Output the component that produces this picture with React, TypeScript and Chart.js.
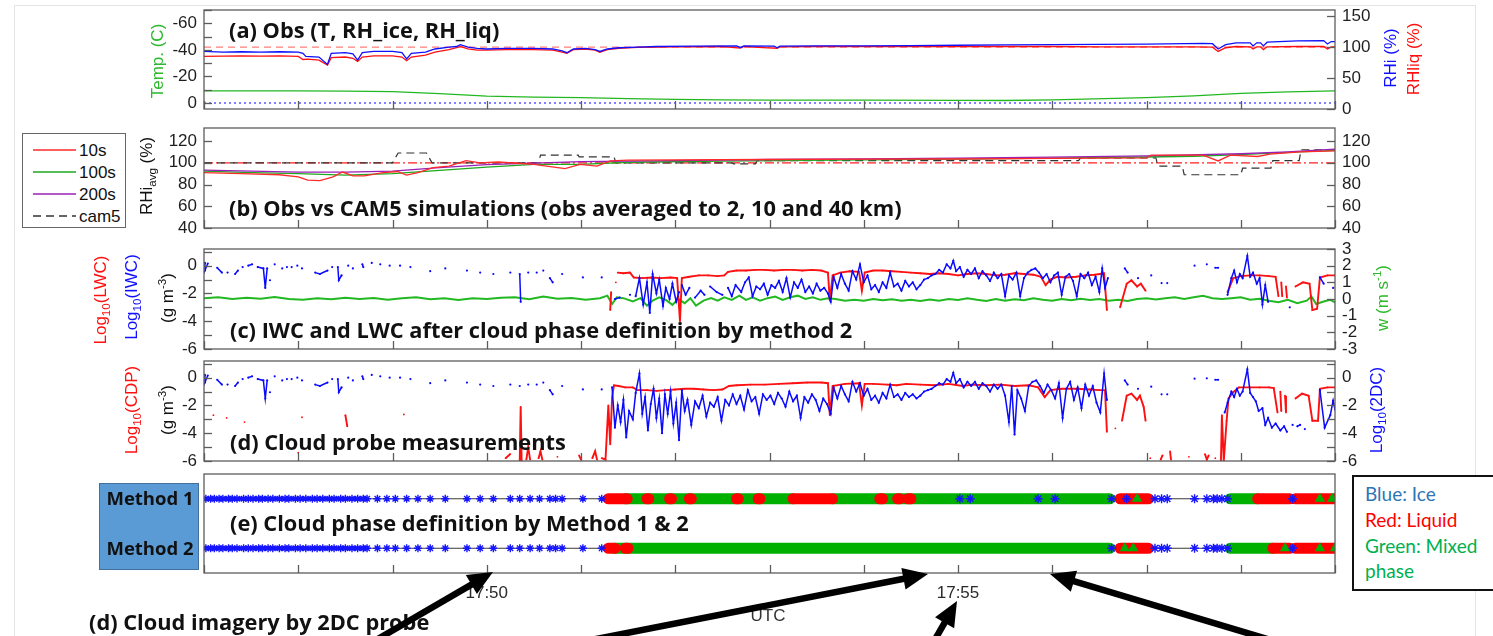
import React, { useEffect, useRef } from 'react';
import { Chart, registerables } from 'chart.js';

Chart.register(...registerables);

type Sample = [number, number] | null; // [minutes after 17:47 UTC, value]; null = data gap
type Run = [number, number]; // [start, end], minutes after 17:47 UTC

// ---------------- time axis ----------------
const TIME_START = 0;
const TIME_END = 12;
const TIME_LABELS: Record<number, string> = { 3: '17:50', 8: '17:55' };

// ---------------- (a) T, RH_ice, RH_liq ----------------
const RH_SATURATION = 100;
const T_FREEZING = 0;

const rhIce: Sample[] = [
  [0, 93], [0.2, 92], [0.4, 92.5], [0.6, 92], [0.8, 92.5], [1.0, 92], [1.05, 90], [1.08, 85], [1.22, 84],
  [1.31, 72], [1.35, 90], [1.5, 91], [1.58, 89], [1.63, 79], [1.68, 91], [1.8, 93], [2.0, 93], [2.1, 91],
  [2.15, 81], [2.2, 90], [2.35, 92], [2.45, 97], [2.6, 100], [2.68, 101], [2.72, 104], [2.8, 100], [2.9, 98],
  [3.0, 97], [3.2, 98], [3.5, 98], [3.7, 97], [3.8, 94], [3.85, 91], [3.92, 97], [4.05, 98], [4.15, 96],
  [4.2, 93], [4.28, 97], [4.4, 99], [4.6, 100], [4.8, 101], [5.2, 101.5], [5.65, 102], [5.69, 99.5], [5.73, 102],
  [6.05, 101.5], [6.08, 99], [6.11, 101.5], [6.5, 102], [7.0, 102], [7.5, 102.5], [8.0, 103], [8.5, 103.5],
  [9.0, 104], [9.5, 104.5], [10.0, 105], [10.4, 105.5], [10.6, 106], [10.7, 105.5], [10.76, 97], [10.84, 104],
  [10.95, 107], [11.1, 107], [11.13, 102], [11.17, 107], [11.21, 107], [11.24, 102], [11.28, 108], [11.6, 110],
  [11.88, 110.5], [11.92, 105], [11.96, 109], [12, 109],
];

const rhLiq: Sample[] = [
  [0, 85], [0.2, 85.5], [0.4, 86], [0.6, 85.5], [0.8, 86], [1.0, 85], [1.05, 80], [1.1, 80.5], [1.22, 79],
  [1.31, 71], [1.35, 83], [1.5, 84], [1.58, 82], [1.63, 77], [1.68, 84], [1.8, 86], [2.0, 86], [2.1, 84],
  [2.15, 78], [2.2, 84], [2.35, 87], [2.45, 92], [2.6, 96], [2.68, 99], [2.72, 101], [2.8, 97], [2.9, 95],
  [3.0, 95], [3.2, 96], [3.5, 96], [3.7, 95], [3.8, 92], [3.85, 90], [3.92, 96], [4.05, 97], [4.15, 95],
  [4.2, 91.5], [4.28, 96], [4.4, 98], [4.6, 99.5], [5.0, 100.5], [5.5, 101], [5.69, 98.5], [5.73, 101],
  [6.08, 98], [6.11, 100.5], [6.5, 101], [7.0, 101], [7.5, 101], [8.0, 101], [8.5, 101], [9.0, 101],
  [9.5, 100.5], [10.0, 100.5], [10.5, 100.5], [10.7, 100], [10.76, 93], [10.84, 99], [10.95, 101], [11.1, 100.5],
  [11.13, 97], [11.17, 100.5], [11.21, 100.5], [11.24, 96], [11.28, 100.5], [11.6, 101], [11.88, 101],
  [11.92, 97], [11.96, 100.5], [12, 100.5],
];

const temperature: Sample[] = [
  [0, -9.2], [1, -9.2], [1.5, -9.0], [2.0, -8.5], [2.5, -7], [3.0, -5.2], [3.5, -4.5], [4.0, -4.0], [4.5, -3.3],
  [5.0, -2.8], [5.5, -2.4], [6.0, -2.2], [7.0, -2.2], [8.0, -2.0], [8.5, -1.9], [9.0, -2.4], [10.0, -4.0],
  [10.5, -5.4], [11.0, -7.2], [11.5, -8.4], [12, -9.2],
];

// ---------------- (b) averaged RHi vs CAM5 ----------------
const rhiAvg10s: Sample[] = [
  [0, 91], [0.4, 90], [0.8, 89], [1.0, 87], [1.1, 84], [1.23, 83.5], [1.37, 87], [1.47, 91.5], [1.58, 88],
  [1.7, 88], [1.9, 91], [2.05, 92], [2.15, 88.7], [2.27, 91], [2.43, 95.5], [2.6, 97], [2.78, 102], [2.93, 100],
  [3.12, 100.7], [3.5, 98.6], [3.83, 94.6], [3.99, 98.6], [4.17, 97], [4.31, 101.7], [4.5, 102.5], [5.0, 102.6],
  [6.0, 103], [7.0, 103.3], [8.0, 103.5], [9.0, 104], [10.0, 104.5], [10.05, 107], [10.6, 107], [10.76, 101.7],
  [10.89, 107], [11.18, 105.8], [11.31, 108], [11.63, 110], [12, 111],
];
const rhiAvg100s: Sample[] = [
  [0, 92.4], [0.5, 91], [1.0, 90], [1.5, 88.7], [2.0, 90], [2.5, 93], [3.0, 96], [3.5, 98.6], [4.0, 98.5],
  [4.5, 100.5], [5.5, 101.5], [7.0, 102.6], [8.0, 103.3], [9.0, 104.2], [10.0, 105.3], [10.5, 106],
  [11.0, 107.5], [11.5, 109.5], [12.0, 111.5],
];
const rhiAvg200s: Sample[] = [
  [0, 93.3], [1.0, 91.4], [1.5, 91.4], [2.0, 92.4], [2.5, 95.5], [3.0, 98.3], [4.0, 101], [5.0, 102], [6.0, 103],
  [7.0, 103.6], [8.0, 104.3], [9.0, 105.2], [10.0, 106.3], [11.0, 108.3], [11.5, 110], [12.0, 112.6],
];
const rhiCam5: Sample[] = [
  [0, 100], [2.0, 100], [2.06, 109], [2.36, 109], [2.42, 100], [3.55, 100], [3.57, 107], [3.97, 107],
  [3.98, 105.5], [4.35, 105.5], [4.37, 100], [5.6, 100], [5.62, 99], [5.85, 99], [5.87, 102], [9.28, 102],
  [9.3, 104.5], [10.1, 104.5], [10.12, 97], [10.38, 97], [10.4, 89], [11.0, 89], [11.02, 95], [11.32, 95],
  [11.34, 102], [11.62, 102], [11.64, 112], [12, 112],
];

// ---------------- (c) IWC, LWC and vertical velocity ----------------
const verticalVelocity: Sample[] = [
  [0, 0.05], [0.15, 0.1], [0.3, 0.0], [0.45, 0.08], [0.6, 0.02], [0.75, 0.12], [0.9, 0.0], [1.05, -0.05],
  [1.2, 0.05], [1.35, -0.02], [1.5, 0.08], [1.65, 0.0], [1.8, 0.06], [1.95, -0.04], [2.1, 0.05], [2.25, 0.1],
  [2.4, -0.02], [2.55, 0.04], [2.7, -0.06], [2.85, 0.05], [3.0, 0.0], [3.15, 0.08], [3.3, 0.1], [3.45, -0.02],
  [3.6, 0.15], [3.75, 0.02], [3.9, 0.06], [4.05, -0.04], [4.2, 0.05], [4.28, 0.2], [4.33, -0.3], [4.38, 0.1],
  [4.45, 0.05], [4.55, -0.15], [4.63, 0.05], [4.7, -0.4], [4.76, -0.1], [4.83, 0.1], [4.9, -0.05], [4.97, -0.35],
  [5.03, 0.0], [5.1, -0.25], [5.16, 0.05], [5.22, -0.4], [5.3, -0.1], [5.38, 0.05], [5.45, -0.1], [5.52, 0.1],
  [5.6, -0.05], [5.68, 0.2], [5.75, -0.05], [5.82, 0.1], [5.9, -0.1], [5.98, 0.05], [6.06, 0.15], [6.14, -0.05],
  [6.22, 0.1], [6.3, 0.2], [6.38, 0.0], [6.46, 0.1], [6.54, -0.05], [6.62, 0.05], [6.7, 0.0], [6.8, -0.1],
  [6.9, -0.05], [7.0, -0.1], [7.1, 0.0], [7.2, -0.08], [7.3, -0.02], [7.4, -0.1], [7.5, -0.05], [7.6, -0.12],
  [7.7, -0.03], [7.8, -0.1], [7.9, 0.0], [8.0, -0.06], [8.1, 0.05], [8.2, -0.05], [8.3, -0.12], [8.4, 0.0],
  [8.5, -0.1], [8.6, -0.02], [8.7, -0.08], [8.8, 0.05], [8.9, -0.05], [9.0, -0.1], [9.1, 0.0], [9.2, -0.08],
  [9.3, 0.02], [9.4, -0.06], [9.5, 0.0], [9.6, -0.1], [9.7, -0.05], [9.8, -0.12], [9.9, 0.0], [10.0, 0.05],
  [10.1, -0.03], [10.2, 0.05], [10.3, 0.1], [10.4, 0.0], [10.5, 0.1], [10.6, 0.2], [10.7, 0.05], [10.8, 0.0],
  [10.9, 0.05], [11.0, 0.1], [11.1, -0.05], [11.2, 0.02], [11.3, -0.1], [11.4, -0.2], [11.5, -0.05],
  [11.6, -0.25], [11.7, -0.1], [11.75, 0.15], [11.8, -0.3], [11.88, -0.15], [11.95, -0.05], [12, -0.2],
];

const logIwc: Sample[] = [
  [0.01, 0.2], [0.01, -0.35], [0.04, 0.15], null, [0.14, -0.15], [0.19, -0.5], null, [0.25, -0.5], null,
  [0.33, -0.6], [0.36, -0.35], null, [0.41, -0.1], null, [0.47, 0.0], [0.51, 0.1], null, [0.57, -0.1],
  [0.63, -0.2], [0.65, -1.6], [0.67, -0.2], null, [0.70, -1.05], null, [0.75, 0.1], null, [0.83, -0.2], null,
  [0.88, -0.1], null, [0.93, -0.1], null, [0.99, 0.0], null, [1.04, -0.2], null, [1.18, -0.5], [1.23, -0.6],
  [1.31, -0.35], null, [1.36, -0.1], null, [1.42, -0.1], [1.43, -1.05], [1.46, -0.7], null, [1.53, 0.0], null,
  [1.58, -0.2], null, [1.68, 0.1], [1.69, -0.1], null, [1.78, 0.2], null, [1.87, 0.1], null, [1.97, 0.0], null,
  [2.08, 0.0], null, [2.19, -0.1], null, [2.40, -0.4], null, [2.56, -0.2], null, [2.79, -0.35], null,
  [2.93, -0.5], null, [3.07, -0.6], null, [3.25, -0.5], null, [3.35, -0.6], [3.36, -2.6], null, [3.44, -0.5],
  null, [3.53, -0.5], null, [3.60, -0.35], null, [3.67, -0.9], [3.70, -1.2], null, [3.80, -0.6], null,
  [4.02, -0.85], null, [4.22, -0.85], null,
  [4.36, -2.4], [4.41, -2.3], null, [4.52, -2.1], null,
  [4.58, -2.2], [4.62, -0.9], [4.66, -2.8], [4.70, -1.2], [4.73, -3.4], [4.76, -0.6], [4.80, -2.0], [4.83, -1.0],
  [4.87, -2.9], [4.90, -1.6], [4.94, -2.4], [4.97, -1.3], [5.01, -2.6], [5.04, -1.9], null,
  [5.07, -1.4], [5.11, -2.1], [5.15, -1.6], null, [5.21, -2.3], [5.27, -1.8], [5.31, -2.1], null,
  [5.37, -1.5], [5.44, -1.9], [5.5, -2.1], null,
  [5.56, -1.6], [5.60, -2.2], [5.64, -1.4], [5.70, -1.9], [5.74, -1.2], [5.78, -0.85], [5.82, -2.2], [5.86, -1.5],
  [5.90, -1.7], [5.94, -1.3], [5.98, -2.1], [6.02, -1.4], [6.06, -1.6], [6.10, -1.1], [6.14, -1.9], [6.18, -0.9],
  [6.22, -2.3], [6.26, -1.2], [6.30, -1.6], [6.34, -1.0], [6.38, -1.9], [6.42, -1.5], [6.46, -2.0], [6.50, -1.3],
  [6.54, -1.8], [6.58, -1.6], [6.62, -2.0], [6.65, -2.6],
  [6.68, -0.8], [6.72, -1.6], [6.76, -0.6], [6.80, -1.3], [6.84, -1.8], [6.88, -0.4], [6.92, -1.0], [6.96, 0.1],
  [7.00, -1.2], [7.04, -0.7], [7.08, -1.7], [7.12, -1.4], [7.16, -1.9], [7.20, -1.2], [7.24, -1.6], [7.28, -0.5],
  [7.32, -1.5], [7.36, -1.3], [7.40, -1.8], [7.44, -1.1], [7.48, -1.5], [7.52, -1.2], [7.56, -1.7], [7.60, -1.4],
  [7.64, -1.0], [7.68, -0.9], [7.72, -0.7], [7.76, -0.6], [7.80, -0.3], [7.84, -0.5], [7.88, 0.1], [7.92, -0.2],
  [7.95, 0.35], [7.98, -0.4], [8.02, -0.1], [8.06, -0.8], [8.10, -0.3], [8.14, -0.6], [8.18, -0.2], [8.22, -0.9],
  [8.26, -0.4], [8.30, -0.7], [8.34, -1.1], [8.38, -0.5], [8.42, -0.9],
  [8.46, -0.6], [8.50, -2.2], [8.54, -0.7], [8.58, -1.0], [8.62, -0.5], [8.66, -2.2], [8.70, -0.9], [8.74, -0.5],
  [8.78, -0.3], [8.82, -0.2], [8.86, -0.5], [8.90, -0.9], [8.94, -0.6], [8.98, -1.2], [9.02, -0.7], [9.06, -0.5],
  [9.10, -2.1], [9.14, -0.8], [9.18, -0.6], [9.22, -1.1], [9.26, -2.2], [9.30, -0.6], [9.34, -0.9], [9.38, -0.5],
  [9.42, -1.4], [9.46, -0.8], [9.50, -1.9], [9.53, -0.2], [9.56, -1.6], [9.59, -0.9], null,
  [9.77, -0.2], [9.80, -0.5], null, [9.91, -0.9], null, [10.05, -0.7], null, [10.16, -1.25], null,
  [10.22, -1.25], null, [10.51, 0.0], null, [10.64, 0.1], null, [10.73, -0.15], [10.76, -0.15], null,
  [10.86, -2.1], [10.90, -0.9], [10.93, -0.35], [10.96, -1.2], [10.99, -0.6], [11.02, -0.9], [11.07, 0.7],
  [11.10, -0.8], [11.13, -0.5], [11.17, -1.3], [11.20, -0.9], [11.23, -2.8], [11.26, -1.4], [11.29, -2.6], null,
  [11.52, -3.0], null, [11.84, -0.85], [11.88, -1.3], null, [11.98, -1.6], null,
];

const logLwc: Sample[] = [
  [4.31, -3.2], [4.32, -1.9], null, [4.37, -1.2], null,
  [4.39, -0.5], [4.45, -0.55], [4.52, -0.5], [4.56, -0.85], [4.65, -0.9], [4.75, -0.85], [4.85, -0.9],
  [4.95, -0.85], [5.02, -0.9], [5.05, -4.0], [5.07, -0.9], [5.15, -0.8], [5.25, -0.7], [5.35, -0.7],
  [5.45, -0.75], [5.52, -0.7], [5.56, -0.45], [5.65, -0.35], [5.75, -0.35], [5.85, -0.3], [5.95, -0.3],
  [6.05, -0.35], [6.15, -0.3], [6.25, -0.3], [6.35, -0.35], [6.45, -0.3], [6.55, -0.35], [6.62, -0.5],
  [6.64, -2.5], [6.67, -0.7], [6.75, -0.5], [6.85, -0.4], [6.95, -0.45], [6.98, -1.8], [7.01, -0.5],
  [7.1, -0.35], [7.2, -0.35], [7.3, -0.4], [7.4, -0.45], [7.5, -0.5], [7.6, -0.55], [7.7, -0.6], [7.8, -0.55],
  [7.9, -0.6], [8.0, -0.7], [8.1, -0.6], [8.2, -0.55], [8.3, -0.6], [8.4, -0.7], [8.5, -0.65], [8.6, -0.55],
  [8.7, -0.6], [8.8, -0.65], [8.88, -0.8], [8.93, -1.4], [8.98, -1.0], [9.05, -0.8], [9.15, -0.85],
  [9.25, -0.8], [9.35, -0.7], [9.45, -0.65], [9.55, -0.55], [9.58, -3.2], null,
  [9.72, -3.0], [9.79, -1.3], [9.84, -1.05], [9.90, -1.5], [9.94, -1.3], [9.99, -1.8], null,
  [10.86, -1.9], [10.92, -0.9], [11.0, -0.75], [11.1, -0.7], [11.2, -0.7], [11.3, -0.75], [11.37, -0.8],
  [11.40, -2.2], null, [11.43, -1.2], [11.44, -2.2], null, [11.48, -1.5], [11.49, -2.3], null,
  [11.58, -1.5], [11.66, -1.2], [11.73, -1.3], [11.76, -3.2], [11.81, -3.1], [11.84, -0.85], [11.92, -0.7],
  [12.0, -0.7],
];

// ---------------- (d) cloud probes: CDP and 2DC ----------------
const logCdp: Sample[] = [
  [0.10, -2.7], null, [0.24, -2.9], null, [0.43, -3.2], null, [1.0, -5.4], null, [1.04, -2.85], null,
  [1.50, -2.7], [1.52, -3.5], null, [2.12, -2.65], null,
  [3.20, -5.8], [3.25, -5.5], null, [3.35, -6.0], [3.36, -2.1], [3.37, -6.0], null, [3.42, -5.9], [3.44, -5.0],
  [3.46, -5.9], null, [3.55, -5.8], [3.57, -5.3], [3.59, -5.9], null, [3.75, -5.7], null, [3.98, -5.6],
  [4.0, -5.9], null, [4.12, -5.8], [4.15, -5.3], [4.17, -5.9], null, [4.22, -5.8], [4.26, -5.9], [4.29, -2.0],
  [4.31, -4.8], [4.33, -1.4], [4.35, -0.55], [4.40, -0.6], [4.47, -0.7], [4.55, -0.7], [4.60, -0.9],
  [4.70, -0.9], [4.80, -0.95], [4.90, -0.9], [5.00, -0.85], [5.10, -0.8], [5.20, -0.8], [5.30, -0.85],
  [5.40, -0.9], [5.50, -0.85], [5.57, -0.6], [5.65, -0.55], [5.80, -0.5], [5.95, -0.5], [6.10, -0.45],
  [6.25, -0.4], [6.40, -0.35], [6.55, -0.35], [6.62, -0.4], [6.64, -2.7], [6.67, -0.6], [6.80, -0.45],
  [6.95, -0.4], [6.98, -2.0], [7.01, -0.45], [7.10, -0.45], [7.25, -0.5], [7.35, -0.55], [7.45, -0.45],
  [7.60, -0.5], [7.75, -0.55], [7.90, -0.45], [8.05, -0.6], [8.15, -0.5], [8.30, -0.55], [8.45, -0.5],
  [8.60, -0.6], [8.75, -0.55], [8.85, -0.7], [8.92, -1.4], [8.98, -0.9], [9.10, -0.8], [9.25, -0.8],
  [9.40, -0.85], [9.50, -0.9], [9.56, -0.9], [9.58, -3.9], null, [9.67, -3.65], null,
  [9.74, -3.1], [9.79, -1.3], [9.84, -1.15], [9.90, -1.6], [9.93, -1.3], [9.97, -2.1], [9.99, -3.1], null,
  [10.04, -5.8], null, [10.15, -5.9], [10.17, -5.6], null, [10.25, -5.3], [10.26, -5.9], null, [10.45, -5.7],
  null, [10.62, -5.5], [10.64, -5.9], [10.66, -5.6], null, [10.73, -5.8], null,
  [10.79, -6.0], [10.80, -2.7], [10.82, -6.0], [10.85, -3.1], [10.87, -1.5], [10.92, -1.05], [10.98, -0.7],
  [11.10, -0.7], [11.20, -0.7], [11.30, -0.7], [11.35, -0.75], [11.39, -2.5], null, [11.42, -1.0],
  [11.43, -2.4], null, [11.47, -1.3], [11.48, -2.5], null, [11.58, -1.5], [11.65, -1.15], [11.72, -1.3],
  [11.76, -3.1], [11.82, -3.1], [11.84, -0.8], [11.92, -0.7], [12.0, -0.7],
];

const log2dc: Sample[] = [
  [0.01, 0.2], [0.01, -0.35], [0.04, 0.15], null, [0.14, -0.15], [0.19, -0.5], null, [0.25, -0.5], null,
  [0.33, -0.6], [0.36, -0.35], null, [0.41, -0.1], null, [0.47, 0.0], [0.51, 0.1], null, [0.57, -0.1],
  [0.63, -0.2], [0.65, -1.5], [0.67, -0.2], null, [0.70, -1.05], null, [0.75, 0.1], null, [0.83, -0.2], null,
  [0.88, -0.1], null, [0.93, -0.1], null, [0.99, 0.0], null, [1.04, -0.2], null, [1.18, -0.5], [1.23, -0.6],
  [1.31, -0.35], null, [1.36, -0.1], null, [1.42, -0.1], [1.43, -1.05], [1.46, -0.7], null, [1.53, 0.0], null,
  [1.58, -0.2], null, [1.68, 0.1], [1.69, -0.1], null, [1.78, 0.2], null, [1.87, 0.1], null, [1.97, 0.0], null,
  [2.08, 0.0], null, [2.19, -0.1], null, [2.40, -0.4], null, [2.56, -0.2], null, [2.79, -0.35], null,
  [2.93, -0.5], null, [3.07, -0.6], null, [3.25, -0.5], null, [3.35, -0.6], null, [3.44, -0.5], null,
  [3.53, -0.5], null, [3.60, -0.35], null, [3.67, -0.9], [3.70, -1.2], null, [3.80, -0.6], null,
  [4.02, -0.85], null, [4.22, -0.85], null,
  [4.33, -0.7], [4.36, -3.6], [4.39, -2.0], [4.42, -3.2], [4.45, -1.6], [4.48, -4.3], [4.51, -2.4], [4.55, -3.0],
  [4.58, -1.1], [4.62, 0.3], [4.65, -2.6], [4.68, -1.4], [4.71, -3.8], [4.74, -1.9], [4.77, -0.8], [4.80, -2.9],
  [4.83, -1.5], [4.86, -4.0], [4.89, -1.2], [4.92, -2.6], [4.95, -1.0], [4.98, -3.3], [5.01, -1.8], [5.04, -4.5],
  [5.07, -0.9], [5.10, -2.4], [5.13, -1.6], [5.17, -3.4], [5.21, -1.7], [5.25, -2.2], [5.29, -1.3], [5.33, -2.8],
  [5.37, -1.8], [5.41, -2.1], [5.45, -1.4], [5.49, -3.1], [5.53, -1.6], [5.57, -2.0], [5.61, -1.2], [5.65, -1.9],
  [5.69, -1.3], [5.73, -2.3], [5.77, -0.9], [5.81, -1.7], [5.85, -1.4], [5.89, -2.6], [5.93, -1.2], [5.97, -1.6],
  [6.01, -1.3], [6.05, -1.9], [6.09, -1.1], [6.13, -1.5], [6.17, -2.1], [6.21, -1.0], [6.25, -1.7], [6.29, -1.3],
  [6.33, -2.9], [6.37, -1.4], [6.41, -1.8], [6.45, -1.2], [6.49, -1.6], [6.53, -2.4], [6.57, -1.5], [6.61, -1.9],
  [6.65, -2.6], [6.68, -0.7], [6.72, -1.5], [6.76, -0.6], [6.80, -1.2], [6.84, -1.7], [6.88, -0.3], [6.92, -1.0],
  [6.96, -0.4], [7.00, -1.3], [7.04, -0.8], [7.08, -1.6], [7.12, -1.3], [7.16, -1.8], [7.20, -1.1], [7.24, -1.5],
  [7.28, -0.5], [7.32, -1.4], [7.36, -1.2], [7.40, -1.6], [7.44, -1.1], [7.48, -1.4], [7.52, -1.2], [7.56, -1.5],
  [7.60, -1.3], [7.64, -1.0], [7.68, -0.9], [7.72, -0.8], [7.76, -0.6], [7.80, -0.4], [7.84, -0.5], [7.88, -0.1],
  [7.92, -0.3], [7.95, 0.35], [7.98, -0.4], [8.02, -0.1], [8.06, -0.7], [8.10, -0.3], [8.14, -0.6], [8.18, -0.3],
  [8.22, -0.8], [8.26, -0.4], [8.30, -0.6], [8.34, -1.0], [8.38, -0.5], [8.42, -0.8], [8.46, -0.5], [8.50, -1.3],
  [8.54, -3.2], [8.57, -0.6], [8.60, -4.1], [8.63, -0.9], [8.67, -1.5], [8.71, -2.4], [8.75, -0.6], [8.79, -0.3],
  [8.83, -0.2], [8.87, -0.6], [8.91, -1.1], [8.95, -0.5], [8.99, -0.9], [9.03, -1.5], [9.07, -0.4], [9.11, -2.9],
  [9.15, -0.8], [9.19, -0.3], [9.23, -1.6], [9.27, -0.7], [9.31, -2.2], [9.35, -0.5], [9.39, -1.3], [9.43, -0.6],
  [9.47, -1.8], [9.51, -2.5], [9.55, 0.3], [9.58, -1.6], null,
  [9.77, -0.2], [9.80, -0.5], null, [9.91, -0.8], null, [10.05, -0.65], null, [10.16, -1.2], null,
  [10.22, -1.2], null, [10.51, -0.07], null, [10.64, -0.05], null, [10.73, -0.15], [10.76, -0.15], null,
  [10.83, -2.5], [10.86, -1.8], [10.90, -1.0], [10.93, -1.4], [10.96, -0.8], [10.99, -1.3], [11.02, -1.0],
  [11.07, 0.6], [11.10, -1.1], [11.13, -1.4], [11.16, -1.7], [11.19, -2.4], [11.23, -2.2], [11.26, -3.4],
  [11.29, -2.9], [11.33, -3.6], [11.37, -3.3], [11.42, -3.8], [11.46, -3.5], [11.49, -3.9], null,
  [11.55, -3.4], null, [11.60, -3.5], [11.63, -3.4], null, [11.68, -3.7], null,
  [11.84, -0.9], [11.89, -3.6], [11.95, -2.7], [11.98, -1.65], [12.0, -2.3],
];

// ---------------- (e) cloud phase by method 1 and method 2 ----------------
const ROW_METHOD1 = 1;
const ROW_METHOD2 = 2;

const iceStarsEarly: number[] = [
  0.02, 0.07, 0.11, 0.16, 0.2, 0.26, 0.3, 0.35, 0.42, 0.47, 0.52, 0.58, 0.62, 0.68, 0.73, 0.8, 0.86, 0.9, 0.97,
  1.02, 1.08, 1.15, 1.2, 1.26, 1.33, 1.38, 1.45, 1.5, 1.57, 1.63, 1.69, 1.73, 1.84, 1.94, 2.03, 2.15, 2.27, 2.40,
  2.56, 2.79, 2.93, 3.07, 3.25, 3.35, 3.46, 3.56, 3.67, 3.73, 3.80, 4.02, 4.22,
];
const iceBand: Run[] = [[0.0, 1.73]];

const m1IceStarsLate: number[] = [8.02, 8.13, 8.85, 9.03, 9.63, 9.79, 10.09, 10.16, 10.22, 10.51, 10.64, 10.71, 10.75, 10.80, 10.86, 11.55];
const m1Mixed: Run[] = [[4.47, 6.25], [6.67, 9.61], [10.89, 11.18]];
const m1Liquid: Run[] = [
  [4.29, 4.49], [4.70, 4.72], [4.94, 4.96], [5.15, 5.17], [5.65, 5.67], [5.88, 5.90],
  [6.25, 6.67], [7.17, 7.20], [7.36, 7.38], [7.47, 7.50], [9.72, 10.02], [11.18, 11.52], [11.58, 12.0],
];
const m1MixedMarks: number[] = [9.90, 11.84, 11.97];

const m2IceStarsLate: number[] = [9.63, 10.09, 10.16, 10.22, 10.51, 10.64, 10.71, 10.75, 10.80, 10.86, 11.55];
const m2Mixed: Run[] = [[4.36, 9.61], [10.89, 11.34]];
const m2Liquid: Run[] = [[4.29, 4.36], [4.47, 4.50], [9.72, 10.02], [11.34, 11.52], [11.58, 12.0]];
const m2MixedMarks: number[] = [9.77, 9.86, 11.47, 11.84, 12.0];

// ---------------- styling ----------------
const SANS = '"Liberation Sans", Arial, sans-serif';
const OPEN = '"Open Sans", Lato, sans-serif';
const CALI = 'Lato, "Open Sans", sans-serif';
const LEFT_GUTTER = 204;
const RIGHT_GUTTER = 158;
const FRAME = '#5c5c5c';

const C = {
  blue: '#1010ff',
  red: '#ff1010',
  green: '#22b822',
  purple: '#9a1fb8',
  dark: '#333333',
  phaseGreen: '#00b000',
};

Chart.defaults.font.family = SANS;
Chart.defaults.font.size = 17;
Chart.defaults.color = '#1e1e1e';

function toXY(pts: Sample[]) {
  const out: { x: number; y: number | null }[] = [];
  let lastX = 0;
  for (const p of pts) {
    if (p === null) {
      out.push({ x: lastX, y: null });
      continue;
    }
    lastX = p[0];
    out.push({ x: p[0], y: p[1] });
  }
  return out;
}

function runsToXY(runs: Run[], row: number) {
  return runs.flatMap(([a, b]) => [{ x: a, y: row }, { x: b, y: row }, { x: b, y: null }]);
}

function pointsOnRow(times: number[], row: number) {
  return times.map((t) => ({ x: t, y: row }));
}

function line(pts: Sample[], axis: string, color: string, width: number, extra: any = {}) {
  return {
    type: 'line',
    data: toXY(pts),
    yAxisID: axis,
    borderColor: color,
    backgroundColor: color,
    borderWidth: width,
    pointRadius: 0,
    pointBorderWidth: 0,
    fill: false,
    tension: 0,
    ...extra,
  };
}

function timeAxis(labelled: boolean) {
  return {
    type: 'linear',
    min: TIME_START,
    max: TIME_END,
    grid: { display: false, drawTicks: false },
    border: { display: false },
    ticks: {
      display: labelled,
      stepSize: 1,
      autoSkip: false,
      maxRotation: 0,
      minRotation: 0,
      includeBounds: false,
      padding: 10,
      color: '#2a2a2a',
      callback: (v: number) => TIME_LABELS[v] ?? '',
    },
    afterFit: (s: any) => {
      s.height = labelled ? 45 : 0;
    },
  };
}

function valueAxis(position: 'left' | 'right', min: number, max: number, step: number, labelEvery: number, reverse = false) {
  return {
    type: 'linear',
    position,
    min,
    max,
    reverse,
    grid: { display: false, drawTicks: false },
    border: { display: false },
    ticks: {
      stepSize: step,
      includeBounds: false,
      autoSkip: false,
      padding: 7,
      color: '#1e1e1e',
      callback: (v: number) =>
        Math.abs(v / labelEvery - Math.round(v / labelEvery)) < 1e-6 ? String(v) : '',
    },
    afterFit: (s: any) => {
      s.width = position === 'left' ? LEFT_GUTTER : RIGHT_GUTTER;
    },
  };
}

// box around the axes plus inward tick marks, drawn on top of the data
const framePlugin = {
  id: 'panelFrame',
  afterDraw(chart: any) {
    const { ctx, chartArea: a } = chart;
    const TICK = 8;
    ctx.save();
    ctx.strokeStyle = FRAME;
    ctx.lineWidth = 1.3;
    for (const s of Object.values(chart.scales) as any[]) {
      if (s.options.display === false) continue;
      if (s.axis === 'x') {
        for (const t of s.ticks) {
          const px = Math.round(s.getPixelForValue(t.value)) + 0.5;
          ctx.beginPath();
          ctx.moveTo(px, a.bottom);
          ctx.lineTo(px, a.bottom - TICK);
          ctx.stroke();
        }
      } else {
        const left = s.position === 'left';
        const x0 = left ? a.left : a.right;
        const x1 = left ? a.left + TICK : a.right - TICK;
        for (const t of s.ticks) {
          const py = Math.round(s.getPixelForValue(t.value)) + 0.5;
          ctx.beginPath();
          ctx.moveTo(x0, py);
          ctx.lineTo(x1, py);
          ctx.stroke();
        }
      }
    }
    ctx.strokeRect(a.left, a.top, a.right - a.left, a.bottom - a.top);
    ctx.restore();
  },
};

function panelOptions(scales: any, padding: any) {
  return {
    responsive: false,
    animation: false,
    events: [],
    layout: { padding },
    plugins: { legend: { display: false }, tooltip: { enabled: false } },
    scales,
  };
}

const PAD = { top: 22, bottom: 22, left: 0, right: 0 };

const buildA = () => ({
  type: 'line',
  data: {
    datasets: [
      line(rhIce, 'yR', C.blue, 1.3),
      line(rhLiq, 'yR', C.red, 1.3),
      line(temperature, 'yL', C.green, 1.3),
      line([[TIME_START, RH_SATURATION], [TIME_END, RH_SATURATION]], 'yR', '#ff7c7c', 1.2, { borderDash: [7, 5] }),
      line([[TIME_START, T_FREEZING], [TIME_END, T_FREEZING]], 'yL', '#5656ff', 1.3, { borderDash: [2, 3] }),
    ],
  },
  options: panelOptions(
    { x: timeAxis(false), yL: valueAxis('left', -70, 4.5, 10, 20, true), yR: valueAxis('right', 0, 160, 50, 50) },
    PAD,
  ),
  plugins: [framePlugin],
});

const buildB = () => ({
  type: 'line',
  data: {
    datasets: [
      line(rhiAvg10s, 'yL', '#ff2a2a', 1.3),
      line(rhiAvg200s, 'yL', C.purple, 1.3),
      line(rhiAvg100s, 'yL', '#1fa81f', 1.3),
      line(rhiCam5, 'yL', C.dark, 1.2, { borderDash: [8, 5] }),
      line([[TIME_START, RH_SATURATION], [TIME_END, RH_SATURATION]], 'yL', '#ff2020', 1.3, { borderDash: [9, 3, 2, 3] }),
    ],
  },
  options: panelOptions(
    { x: timeAxis(false), yL: valueAxis('left', 40, 132, 20, 20), yR: valueAxis('right', 40, 132, 20, 20) },
    PAD,
  ),
  plugins: [framePlugin],
});

const buildC = () => ({
  type: 'line',
  data: {
    datasets: [
      line(logIwc, 'yL', '#0a0aff', 1.5, { pointRadius: 1.1 }),
      line(logLwc, 'yL', C.red, 1.9, { pointRadius: 0.9 }),
      line(verticalVelocity, 'yR', C.green, 2),
    ],
  },
  options: panelOptions(
    { x: timeAxis(false), yL: valueAxis('left', -6, 1.2, 1, 2), yR: valueAxis('right', -3, 3, 1, 1) },
    PAD,
  ),
  plugins: [framePlugin],
});

const buildD = () => ({
  type: 'line',
  data: {
    datasets: [
      line(log2dc, 'yR', '#0a0aff', 1.5, { pointRadius: 1.1 }),
      line(logCdp, 'yL', C.red, 1.9, { pointRadius: 0.9 }),
    ],
  },
  options: panelOptions(
    { x: timeAxis(false), yL: valueAxis('left', -6, 1.2, 1, 2), yR: valueAxis('right', -6, 1.2, 1, 2) },
    PAD,
  ),
  plugins: [framePlugin],
});

const phaseRun = (runs: Run[], row: number, color: string, width: number) => ({
  type: 'line',
  data: runsToXY(runs, row),
  yAxisID: 'yRow',
  borderColor: color,
  backgroundColor: color,
  borderWidth: width,
  borderCapStyle: 'round',
  pointRadius: 0,
  tension: 0,
});

const phaseMarks = (times: number[], row: number, style: string, color: string, radius: number, filled: boolean) => ({
  type: 'scatter',
  data: pointsOnRow(times, row),
  yAxisID: 'yRow',
  pointStyle: style,
  pointRadius: radius,
  borderColor: color,
  backgroundColor: filled ? color : 'transparent',
  pointBorderWidth: filled ? 0 : 1.4,
});

const buildE = () => ({
  type: 'line',
  data: {
    datasets: [
      phaseMarks(m1MixedMarks, ROW_METHOD1, 'triangle', C.phaseGreen, 6, true),
      phaseMarks(m2MixedMarks, ROW_METHOD2, 'triangle', C.phaseGreen, 6, true),
      phaseMarks(iceStarsEarly, ROW_METHOD1, 'star', '#1515ff', 4, false),
      phaseMarks(iceStarsEarly, ROW_METHOD2, 'star', '#1515ff', 4, false),
      phaseMarks(m1IceStarsLate, ROW_METHOD1, 'star', '#1515ff', 4.5, false),
      phaseMarks(m2IceStarsLate, ROW_METHOD2, 'star', '#1515ff', 4.5, false),
      phaseRun(m1Liquid, ROW_METHOD1, '#ff0000', 11),
      phaseRun(m2Liquid, ROW_METHOD2, '#ff0000', 11),
      phaseRun(m1Mixed, ROW_METHOD1, C.phaseGreen, 11),
      phaseRun(m2Mixed, ROW_METHOD2, C.phaseGreen, 11),
      phaseRun(iceBand, ROW_METHOD1, '#1515ff', 4),
      phaseRun(iceBand, ROW_METHOD2, '#1515ff', 4),
      phaseRun([[TIME_START, TIME_END]], ROW_METHOD1, '#3a3a3a', 1),
      phaseRun([[TIME_START, TIME_END]], ROW_METHOD2, '#3a3a3a', 1),
    ],
  },
  options: panelOptions(
    {
      x: timeAxis(true),
      yRow: { type: 'linear', axis: 'y', display: false, min: 0.5, max: 2.5, reverse: true },
    },
    { top: 22, bottom: 0, left: LEFT_GUTTER, right: RIGHT_GUTTER },
  ),
  plugins: [framePlugin],
});

function Panel({ top, height, build }: { top: number; height: number; build: () => any }) {
  const ref = useRef<HTMLCanvasElement>(null);
  useEffect(() => {
    const chart = new Chart(ref.current as HTMLCanvasElement, build());
    return () => chart.destroy();
  }, []);
  return (
    <canvas
      ref={ref}
      width={1493}
      height={height}
      style={{ position: 'absolute', left: 0, top, width: 1493, height }}
    />
  );
}

function Txt({ x, y, size, color = '#111', bold = false, font = CALI, center = false, children }: any) {
  return (
    <div
      style={{
        position: 'absolute',
        left: x,
        top: y,
        transform: center ? 'translate(-50%, -50%)' : 'translate(0, -50%)',
        fontFamily: font,
        fontSize: size,
        fontWeight: bold ? 700 : 400,
        color,
        whiteSpace: 'nowrap',
        lineHeight: 1,
      }}
    >
      {children}
    </div>
  );
}

function VTxt({ cx, cy, color = '#111', size = 17, children }: any) {
  return (
    <div
      style={{
        position: 'absolute',
        left: cx,
        top: cy,
        transform: 'translate(-50%, -50%) rotate(-90deg)',
        fontFamily: SANS,
        fontSize: size,
        color,
        whiteSpace: 'nowrap',
        lineHeight: 1,
      }}
    >
      {children}
    </div>
  );
}

const Sub = ({ children }: any) => (
  <span style={{ fontSize: '0.68em', verticalAlign: '-0.35em', lineHeight: 0 }}>{children}</span>
);
const Sup = ({ children }: any) => (
  <span style={{ fontSize: '0.68em', verticalAlign: '0.55em', lineHeight: 0 }}>{children}</span>
);

const LEGEND_B = [
  { label: '10s', color: '#ff2a2a', dash: '' },
  { label: '100s', color: '#1fa81f', dash: '' },
  { label: '200s', color: C.purple, dash: '' },
  { label: 'cam5', color: C.dark, dash: '8 5' },
];

const ARROWS: [number, number, number, number][] = [
  [359, 650, 493, 572],
  [540, 650, 928, 574],
  [929, 650, 957, 601],
  [1304, 650, 1050, 574],
];

function Arrow({ a }: { a: [number, number, number, number] }) {
  const [x1, y1, x2, y2] = a;
  const dx = x2 - x1;
  const dy = y2 - y1;
  const L = Math.hypot(dx, dy);
  const ux = dx / L;
  const uy = dy / L;
  const head = 25;
  const half = 11;
  const bx = x2 - ux * head;
  const by = y2 - uy * head;
  const px = -uy;
  const py = ux;
  return (
    <g>
      <line x1={x1} y1={y1} x2={bx + ux * 3} y2={by + uy * 3} stroke="#000" strokeWidth={6.5} />
      <polygon
        points={`${x2},${y2} ${bx + px * half},${by + py * half} ${bx - px * half},${by - py * half}`}
        fill="#000"
      />
    </g>
  );
}

export default function App() {
  return (
    <div
      style={{
        position: 'absolute',
        left: 0,
        top: 0,
        width: 1493,
        height: 636,
        overflow: 'hidden',
        background: '#fff',
        fontFamily: SANS,
      }}
    >
      <div
        style={{
          position: 'absolute',
          left: 14,
          top: 5,
          width: 1460,
          height: 660,
          border: '1px solid #e4e4e4',
        }}
      />

      <Panel top={-12} height={143} build={buildA} />
      <Panel top={106} height={144} build={buildB} />
      <Panel top={227} height={144} build={buildC} />
      <Panel top={339} height={144} build={buildD} />
      <Panel top={452} height={166} build={buildE} />

      {/* panel titles */}
      <Txt x={229} y={30} size={21.8} bold font={OPEN}>(a) Obs (T, RH_ice, RH_liq)</Txt>
      <Txt x={229} y={208} size={21.8} bold font={OPEN}>(b) Obs vs CAM5 simulations (obs averaged to 2, 10 and 40 km)</Txt>
      <Txt x={230} y={330} size={21.8} bold font={OPEN}>(c) IWC and LWC after cloud phase definition by method 2</Txt>
      <Txt x={230} y={442} size={21.8} bold font={OPEN}>(d) Cloud probe measurements</Txt>
      <Txt x={230} y={523} size={21.8} bold font={OPEN}>(e) Cloud phase definition by Method 1 &amp; 2</Txt>
      <Txt x={89} y={622} size={21.8} bold font={OPEN}>(d) Cloud imagery by 2DC probe</Txt>

      {/* axis titles */}
      <VTxt cx={157} cy={61} color="#2db82d">Temp. (C)</VTxt>
      <VTxt cx={1390} cy={58} color={C.blue}>RHi (%)</VTxt>
      <VTxt cx={1413} cy={59} color={C.red}>RHliq (%)</VTxt>
      <VTxt cx={146} cy={176} color="#111">
        RHi<Sub>avg</Sub> (%)
      </VTxt>
      <VTxt cx={100} cy={300} color={C.red}>
        Log<Sub>10</Sub>(LWC)
      </VTxt>
      <VTxt cx={131} cy={297} color={C.blue}>
        Log<Sub>10</Sub>(IWC)
      </VTxt>
      <VTxt cx={167} cy={298} color="#111">
        (g m<Sup>-3</Sup>)
      </VTxt>
      <VTxt cx={1382} cy={298} color="#2db82d">
        w (m s<Sup>-1</Sup>)
      </VTxt>
      <VTxt cx={131} cy={410} color={C.red}>
        Log<Sub>10</Sub>(CDP)
      </VTxt>
      <VTxt cx={167} cy={410} color="#111">
        (g m<Sup>-3</Sup>)
      </VTxt>
      <VTxt cx={1376} cy={410} color={C.blue}>
        Log<Sub>10</Sub>(2DC)
      </VTxt>
      <Txt x={768} y={615} size={17} font={SANS} color="#333" center>UTC</Txt>

      {/* legend for panel (b) */}
      <div
        style={{
          position: 'absolute',
          left: 22,
          top: 133,
          width: 102,
          height: 93,
          border: '1px solid #666',
          background: '#fff',
        }}
      >
        <svg width={102} height={93} style={{ position: 'absolute', left: 0, top: 0 }}>
          {LEGEND_B.map((e, i) => (
            <line
              key={e.label}
              x1={10}
              x2={53}
              y1={16 + i * 22}
              y2={16 + i * 22}
              stroke={e.color}
              strokeWidth={1.3}
              strokeDasharray={e.dash || undefined}
            />
          ))}
        </svg>
        {LEGEND_B.map((e, i) => (
          <Txt key={e.label} x={56} y={16 + i * 22} size={17} font={SANS} color="#111">
            {e.label}
          </Txt>
        ))}
      </div>

      {/* row labels for panel (e) */}
      <div
        style={{
          position: 'absolute',
          left: 99,
          top: 483,
          width: 100,
          height: 87,
          background: '#5b9bd5',
          border: '1px solid #41719c',
          boxSizing: 'border-box',
        }}
      />
      <Txt x={150} y={498} size={18.5} bold font={OPEN} center>Method 1</Txt>
      <Txt x={150} y={548} size={18.5} bold font={OPEN} center>Method 2</Txt>

      {/* phase colour key */}
      <div
        style={{
          position: 'absolute',
          left: 1352,
          top: 475,
          width: 150,
          height: 116,
          border: '2px solid #111',
          background: '#fff',
          boxSizing: 'border-box',
        }}
      />
      <Txt x={1365} y={493} size={19} color="#2e75b6">Blue: Ice</Txt>
      <Txt x={1365} y={519} size={19} color="#ff0000">Red: Liquid</Txt>
      <Txt x={1365} y={545} size={19} color="#00b050">Green: Mixed</Txt>
      <Txt x={1365} y={570} size={19} color="#00b050">phase</Txt>

      <svg width={1493} height={636} style={{ position: 'absolute', left: 0, top: 0 }}>
        {ARROWS.map((a, i) => (
          <Arrow key={i} a={a} />
        ))}
      </svg>
    </div>
  );
}
